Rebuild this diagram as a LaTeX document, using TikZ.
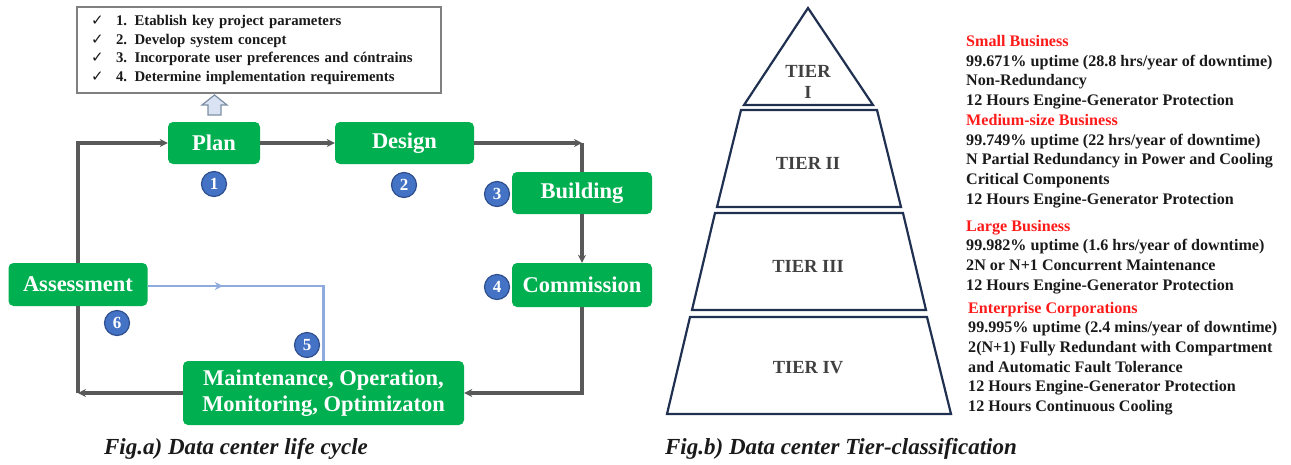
\documentclass[tikz,border=0pt]{standalone}
\usepackage{fontspec}
\setmainfont{Liberation Serif}
\newfontfamily\symfont{DejaVu Sans}
\usetikzlibrary{arrows.meta,decorations.markings}
\definecolor{boxgreen}{HTML}{00B050}
\definecolor{numblue}{HTML}{4472C4}
\definecolor{numedge}{HTML}{2F4F8F}
\definecolor{linegray}{HTML}{595959}
\definecolor{flowblue}{HTML}{8FAADC}
\definecolor{pyrnavy}{HTML}{1F3050}
\definecolor{tiergray}{HTML}{404040}
\definecolor{txtred}{HTML}{FF1A1A}
\definecolor{txtblack}{HTML}{1A1A1A}
\definecolor{hollowfill}{HTML}{DAE3F3}
\definecolor{hollowedge}{HTML}{7F8FA6}
\begin{document}
\begin{tikzpicture}[x=1pt,y=-1pt,
  stage/.style={fill=boxgreen, rounded corners=5pt, text=white, inner sep=0pt, align=center,
    font=\bfseries\fontsize{22.5pt}{26pt}\selectfont},
  numdot/.style={circle, fill=numblue, draw=numedge, line width=1.2pt, minimum size=25pt, inner sep=0pt,
    text=white, font=\bfseries\fontsize{17pt}{17pt}\selectfont},
  flow/.style={draw=linegray, line width=3.2pt},
  flowarrow/.style={flow, -{Stealth[length=8pt,width=8pt]}},
  assesslink/.style={draw=flowblue, line width=2.8pt,
    postaction={decorate, decoration={markings, mark=at position 0.30 with {\arrow[flowblue]{Stealth[length=8pt,width=8pt]}}}}},
  tierline/.style={draw=pyrnavy, line width=2.2pt, line join=miter},
  tierlabel/.style={text=tiergray, align=center, font=\bfseries\fontsize{18.5pt}{21pt}\selectfont},
  infotext/.style={anchor=west, inner sep=0pt, align=left, text=txtblack,
    font=\bfseries\fontsize{16.1pt}{19.7pt}\selectfont},
  caption/.style={text=txtblack, font=\bfseries\itshape\fontsize{23pt}{26pt}\selectfont}
]
\useasboundingbox (0,0) rectangle (1291,464);

% ---------- parameter box ----------
\node[draw=gray, line width=1.4pt, minimum width=364pt, minimum height=86pt, text width=340pt,
      inner xsep=12pt, inner ysep=0pt, align=left, text=txtblack,
      font=\bfseries\fontsize{14.8pt}{18.7pt}\selectfont] (params) at (259,50)
  {\makebox[27pt][l]{\hspace{2pt}\symfont\fontsize{15pt}{15pt}\selectfont ✓}1. Etablish key project parameters\\
   \makebox[27pt][l]{\hspace{2pt}\symfont\fontsize{15pt}{15pt}\selectfont ✓}2. Develop system concept\\
   \makebox[27pt][l]{\hspace{2pt}\symfont\fontsize{15pt}{15pt}\selectfont ✓}3. Incorporate user preferences and cóntrains\\
   \makebox[27pt][l]{\hspace{2pt}\symfont\fontsize{15pt}{15pt}\selectfont ✓}4. Determine implementation requirements};

% hollow up arrow
\draw[fill=hollowfill, draw=hollowedge, line width=1.2pt]
  (214.5,95) -- (227,105) -- (221,105) -- (221,115) -- (208,115) -- (208,105) -- (202,105) -- cycle;

% ---------- stages ----------
\node[stage, minimum width=92pt, minimum height=42pt] (plan) at (214,143) {Plan};
\node[stage, minimum width=139pt, minimum height=42pt] (design) at (404.5,143) {Design};
\node[stage, minimum width=140pt, minimum height=42pt] (building) at (582,193) {Building};
\node[stage, minimum width=140pt, minimum height=44pt] (commission) at (582,285) {Commission};
\node[stage, minimum width=139pt, minimum height=43pt] (assessment) at (78,284.5) {Assessment};
\node[stage, minimum width=281pt, minimum height=64pt] (maint) at (323.5,393)
  {Maintenance, Operation,\\Monitoring, Optimizaton};

\coordinate (c1) at (582,143);
\coordinate (c3) at (78,393);
\coordinate (c5) at (323.5,286);

% ---------- connectors ----------
\draw[flowarrow] (plan.east) -- (design.west);
\draw[flowarrow] (design.east) -- (c1);
\draw[flow] (c1) -- (building.north);
\draw[flowarrow] (building.south) -- (commission.north);
\draw[flowarrow] (commission.south) |- (maint.east);
\draw[flowarrow] (maint.west) -- (c3);
\draw[flow] (c3) -- (assessment.south);
\draw[flowarrow] (assessment.north) |- (plan.west);
\draw[assesslink] (assessment.east |- c5) -- (c5) -- (maint.north);

% ---------- numbers ----------
\node[numdot] (n1) at (214,184) {1};
\node[numdot] (n2) at (404,185) {2};
\node[numdot] (n3) at (497,194) {3};
\node[numdot] (n4) at (497,287) {4};
\node[numdot] (n5) at (307,345) {5};
\node[numdot] (n6) at (117,323) {6};

% ---------- captions ----------
\node[caption] (capa) at (236,449) {Fig.a) Data center life cycle};
\node[caption] (capb) at (841,449) {Fig.b) Data center Tier-classification};

% ---------- pyramid ----------
\draw[tierline] (808,8) -- (873,105) -- (744,105) -- cycle;
\draw[tierline] (741,110) -- (877,110) -- (901,207) -- (717,207) -- cycle;
\draw[tierline] (715,213) -- (903,213) -- (926,310) -- (692,310) -- cycle;
\draw[tierline] (690,317) -- (927,317) -- (951,414) -- (667,414) -- cycle;
\node[tierlabel] (t1) at (808,82) {TIER\\I};
\node[tierlabel] (t2) at (808,163) {TIER II};
\node[tierlabel] (t3) at (808,266) {TIER III};
\node[tierlabel] (t4) at (808,368) {TIER IV};

% ---------- tier descriptions ----------
\node[infotext] (g1) at (966,121.5)
  {\textcolor{txtred}{Small Business}\\
   99.671\% uptime (28.8 hrs/year of downtime)\\
   Non-Redundancy\\
   12 Hours Engine-Generator Protection\\
   \textcolor{txtred}{Medium-size Business}\\
   99.749\% uptime (22 hrs/year of downtime)\\
   N Partial Redundancy in Power and Cooling\\
   Critical Components\\
   12 Hours Engine-Generator Protection};
\node[infotext] (g2) at (966,257)
  {\textcolor{txtred}{Large Business}\\
   99.982\% uptime (1.6 hrs/year of downtime)\\
   2N or N+1 Concurrent Maintenance\\
   12 Hours Engine-Generator Protection};
\node[infotext] (g3) at (968,358.5)
  {\textcolor{txtred}{Enterprise Corporations}\\
   99.995\% uptime (2.4 mins/year of downtime)\\
   2(N+1) Fully Redundant with Compartment\\
   and Automatic Fault Tolerance\\
   12 Hours Engine-Generator Protection\\
   12 Hours Continuous Cooling};
\end{tikzpicture}
\end{document}
